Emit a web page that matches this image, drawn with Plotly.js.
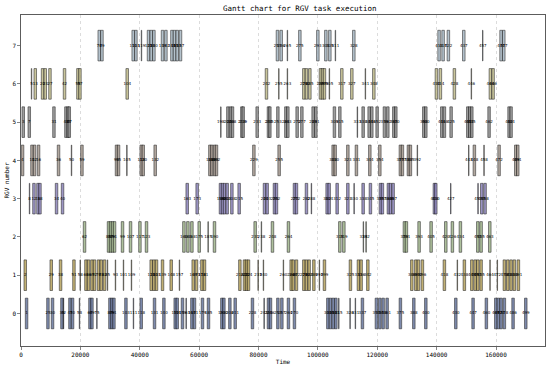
<!DOCTYPE html>
<html>
<head>
<meta charset="utf-8">
<script src="https://cdn.plot.ly/plotly-3.0.1.min.js"></script>
<style>html,body{margin:0;padding:0;background:#fff;}#chart{width:550px;height:367px;}</style>
</head>
<body>
<div id="chart"></div>
<script>
// ---- data: task start times, durations, task numbers for each RGV ----
const agv0Start = [1450,8650,10200,13370,14240,16060,16940,19630,22800,23470,25490,29530,30200,30880,34920,37810,40070,44550,47710,51520,52190,53970,55560,57140,58010,60710,62730,67240,67910,69930,71720,77540,81820,82930,83610,86100,87440,89660,91680,102930,103800,104720,105630,106970,110770,112560,114580,119290,120440,121550,122900,127370,131890,135930,146030,151850,156330,159500,160370,161280,162390,165320,169600];
const agv0Dur   = [850,850,850,850,150,850,850,150,850,850,150,850,850,850,850,150,850,850,850,850,850,850,150,850,850,850,850,850,850,850,850,850,150,850,850,850,850,850,850,850,850,850,850,150,150,150,850,850,850,850,850,850,850,850,850,850,850,850,850,850,850,850,850];
const agv0Task  = [1,25,30,39,42,47,50,58,67,69,75,87,89,91,103,111,118,131,140,152,154,159,163,168,171,179,185,198,200,206,211,228,241,244,246,253,257,264,270,303,305,308,311,315,326,331,337,351,354,358,361,375,388,400,430,447,460,469,472,474,478,486,499];

const agv1Start = [1010,9760,12900,17410,19870,21450,22320,23470,24340,25690,26600,27710,29060,31750,34450,37140,43430,44340,45220,47240,50170,53300,57580,58690,60510,61380,73300,74850,75520,76200,79800,81590,88320,90580,91250,92360,94850,95720,96630,98220,100440,101790,110540,113230,114140,116400,131210,132560,133440,134780,142190,146900,148920,151420,152530,153440,154550,157910,160370,162390,163540,164650,165760,167110];
const agv1Dur   = [850,850,850,850,150,850,850,850,850,850,850,850,150,150,150,150,850,850,850,850,850,150,850,850,850,850,850,850,850,850,150,150,150,850,850,850,850,850,850,850,150,850,850,850,850,850,850,850,850,850,850,150,850,850,850,850,850,150,150,850,850,850,850,850];
const agv1Task  = [2,29,38,51,58,63,66,69,72,76,78,82,85,93,101,109,128,130,133,139,148,157,169,173,178,181,216,220,222,224,235,240,260,266,268,272,279,282,284,289,295,299,325,333,336,342,386,390,392,396,418,432,438,445,449,451,455,464,472,478,481,484,488,491];

const agv2Start = [20980,29060,29730,30400,31080,33770,36470,39630,41850,54450,55790,57140,59600,62960,64750,78450,80910,84280,89660,106970,108320,115250,116160,128720,129390,133670,137710,142660,144880,147580,153440,154550,157480];
const agv2Dur   = [850,850,850,850,850,850,850,850,850,850,850,850,850,150,850,850,150,850,850,850,850,150,150,850,850,850,850,850,850,850,850,850,850];
const agv2Task  = [62,85,87,89,91,99,107,117,123,160,164,168,175,185,190,231,238,248,264,315,319,339,342,379,381,393,405,420,426,434,451,455,463];

const agv3Start = [2800,3940,5290,5960,11550,13570,55560,58920,66770,67440,68120,69020,70610,73060,81590,82490,84950,85620,91690,92360,95730,97750,102690,103370,106060,109670,112130,114820,117270,120640,121310,123330,124010,124920,138820,139290,144680,153870,154780,155890];
const agv3Dur   = [150,850,850,850,850,850,850,850,850,850,850,850,850,850,850,850,850,850,850,850,850,150,850,850,850,850,150,850,850,850,850,850,850,850,850,850,150,150,850,850];
const agv3Task  = [8,12,16,18,34,40,163,173,196,198,200,203,208,215,240,243,250,252,270,272,282,288,302,304,312,323,330,338,345,355,357,363,365,367,408,410,427,453,455,458];

const agv4Start = [100,3270,4140,5490,12220,16940,20100,31750,32430,35590,40070,40740,44780,63200,63870,64750,65420,78020,86530,104720,105390,109670,112560,117070,120440,127370,128050,130070,130740,133430,150740,152290,155890,160610,166230,166900];
const agv4Dur   = [850,850,850,850,850,150,850,850,850,150,850,850,850,850,850,850,850,850,850,850,850,850,850,850,850,850,850,850,850,150,150,850,150,850,850,850];
const agv4Task  = [4,10,12,16,36,50,59,93,95,105,118,120,132,186,188,190,192,229,255,308,310,323,331,344,354,375,377,383,385,392,443,448,458,472,489,491];

const agv5Start = [340,2360,10670,14710,15390,15830,67240,69260,70140,70810,73970,74410,79130,82930,83400,86100,88790,89460,92590,94180,97980,98890,105150,106970,113230,114820,116840,117740,119530,121990,123130,125150,125830,135250,135930,141310,142190,144450,150070,150740,151420,157240,163970,164650];
const agv5Dur   = [850,850,850,850,850,850,150,850,850,850,850,850,850,850,850,850,850,850,850,850,850,850,850,850,150,850,850,850,850,850,850,850,850,850,850,850,850,850,850,850,850,850,850,850];
const agv5Task  = [3,7,31,43,45,47,198,204,206,208,218,219,233,244,245,253,261,263,272,277,288,291,309,315,333,338,344,346,352,359,362,368,370,398,400,416,418,425,441,443,445,462,482,484];

const agv6Start = [3470,4380,6840,7740,9330,14240,18750,19430,35350,82260,86770,89660,94850,95720,96870,100440,101110,101780,103800,107640,111010,115930,118420,139500,140840,145560,151620,157680,158590];
const agv6Dur   = [150,850,850,850,850,850,850,850,850,850,150,150,850,850,850,850,850,850,150,850,850,150,850,850,850,850,150,850,850];
const agv6Task  = [5,13,20,23,27,42,55,57,104,242,255,263,279,282,285,295,297,299,305,317,327,341,348,410,414,428,446,464,466];

const agv7Start = [25930,26840,37370,38280,40510,42530,43430,44340,47240,48380,50410,51280,52190,53300,85960,87210,89660,93500,99560,102260,103600,105830,111680,140400,141750,143530,148720,155450,161280,162190];
const agv7Dur   = [850,850,850,850,150,850,850,850,850,850,850,850,850,850,850,850,150,850,850,850,850,150,850,850,850,850,850,150,850,850];
const agv7Task  = [76,79,110,113,119,125,128,130,139,142,148,151,153,157,253,256,265,275,293,301,305,311,328,413,417,422,437,457,474,477];

const rgvNumbers = [0,1,2,3,4,5,6,7];
const xTickVals = [0,20000,40000,60000,80000,100000,120000,140000,160000];

// ---- styling ----
const rowColors = ['#68779f','#b7a35c','#a1b78c','#8c84bc','#a5998f','#8d8d8d','#c0bb8a','#a7b8c4'];
const starts = [agv0Start,agv1Start,agv2Start,agv3Start,agv4Start,agv5Start,agv6Start,agv7Start];
const durs   = [agv0Dur,agv1Dur,agv2Dur,agv3Dur,agv4Dur,agv5Dur,agv6Dur,agv7Dur];
const tasks  = [agv0Task,agv1Task,agv2Task,agv3Task,agv4Task,agv5Task,agv6Task,agv7Task];

const traces = [];
rgvNumbers.forEach((r) => {
  traces.push({
    type: 'bar', orientation: 'h',
    base: starts[r], x: durs[r], y: starts[r].map(() => r),
    width: 0.8,
    marker: {color: rowColors[r], opacity: 0.85, line: {color: '#111', width: 0.6}},
    hoverinfo: 'skip', showlegend: false
  });
});
rgvNumbers.forEach((r) => {
  traces.push({
    type: 'scatter', mode: 'text',
    x: starts[r].map((s, i) => s + durs[r][i] / 2),
    y: starts[r].map(() => r),
    text: tasks[r].map(String),
    textfont: {family: 'DejaVu Sans', size: 4, color: '#000'},
    textposition: 'middle center',
    hoverinfo: 'skip', showlegend: false, cliponaxis: false
  });
});

const layout = {
  width: 550, height: 367,
  margin: {l: 21, r: 5, t: 15, b: 21},
  paper_bgcolor: '#fff', plot_bgcolor: '#fff',
  barmode: 'overlay',
  font: {family: 'DejaVu Sans Mono', size: 6, color: '#000'},
  title: {text: 'Gantt chart for RGV task execution', font: {family: 'DejaVu Sans Mono', size: 7.5, color: '#000'}, x: 0.545, xanchor: 'center', y: 0.985, yanchor: 'top'},
  xaxis: {
    range: [0, 176500], tickvals: xTickVals, ticktext: xTickVals.map(String),
    showgrid: true, gridcolor: '#c4c4c4', griddash: 'dot', gridwidth: 0.6,
    showline: true, linecolor: '#333', linewidth: 0.8, mirror: true,
    ticks: 'outside', ticklen: 3, tickwidth: 0.6, tickcolor: '#333',
    zeroline: false, automargin: false,
    tickfont: {size: 6, family: 'DejaVu Sans Mono'},
    title: {text: 'Time', font: {size: 6, family: 'DejaVu Sans Mono'}, standoff: 2}
  },
  yaxis: {
    range: [-0.85, 7.8], tickvals: rgvNumbers, ticktext: rgvNumbers.map(String),
    showgrid: false, showline: true, linecolor: '#333', linewidth: 0.8, mirror: true,
    ticks: 'outside', ticklen: 3, tickwidth: 0.6, tickcolor: '#333',
    zeroline: false, automargin: false,
    tickfont: {size: 6, family: 'DejaVu Sans Mono'},
    title: {text: 'RGV number', font: {size: 6, family: 'DejaVu Sans Mono'}, standoff: 2}
  }
};

Plotly.newPlot('chart', traces, layout, {staticPlot: true, displayModeBar: false});
</script>
</body>
</html>
